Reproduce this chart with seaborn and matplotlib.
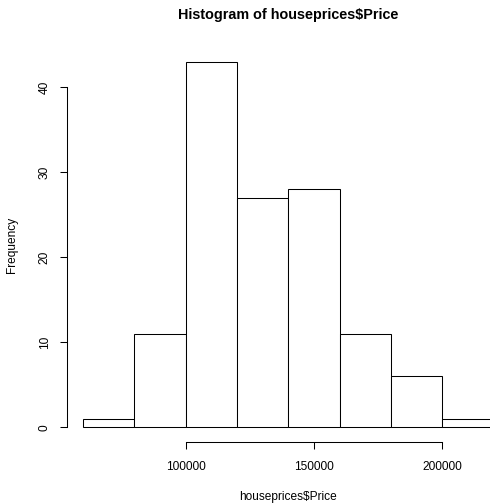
import matplotlib
matplotlib.use("Agg")
import matplotlib.pyplot as plt
import seaborn as sns
import numpy as np

bin_edges = [60000, 80000, 100000, 120000, 140000, 160000, 180000, 200000, 220000]
counts = [1, 11, 43, 27, 28, 11, 6, 1]
x_ticks = [100000, 150000, 200000]
x_tick_labels = ["100000", "150000", "200000"]
y_ticks = [0, 10, 20, 30, 40]
y_tick_labels = ["0", "10", "20", "30", "40"]

sns.set_style("white")
plt.rcParams["font.family"] = ["Liberation Sans", "DejaVu Sans"]
plt.rcParams["text.parse_math"] = False
plt.rcParams["text.color"] = "black"
plt.rcParams["axes.labelcolor"] = "black"

centers = [(a + b) / 2 for a, b in zip(bin_edges[:-1], bin_edges[1:])]

fig = plt.figure(figsize=(4.9, 5.04), dpi=100)
ax = fig.add_axes([66.8 / 490, (504 - 442) / 504, 443 / 490, 395 / 504])

sns.histplot(x=centers, weights=counts, bins=bin_edges, ax=ax,
             color="white", edgecolor="black", linewidth=0.75, alpha=1)

rng = bin_edges[-1] - bin_edges[0]
ax.set_xlim(bin_edges[0] - 0.04 * rng, bin_edges[-1] + 0.04 * rng)
ymax = max(counts)
ax.set_ylim(-0.04 * ymax, ymax * 1.04)

for s in ["top", "right"]:
    ax.spines[s].set_visible(False)
for s in ["left", "bottom"]:
    ax.spines[s].set_color("black")
    ax.spines[s].set_linewidth(0.75)
ax.spines["left"].set_bounds(y_ticks[0], y_ticks[-1])
ax.spines["bottom"].set_bounds(x_ticks[0], x_ticks[-1])

ax.set_xticks(x_ticks)
ax.set_xticklabels(x_tick_labels)
ax.set_yticks(y_ticks)
ax.set_yticklabels(y_tick_labels, rotation=90, va="center")
ax.tick_params(axis="both", direction="out", length=5.2, width=0.75,
               color="black", labelsize=8.6, labelcolor="black",
               bottom=True, left=True)
ax.tick_params(axis="x", pad=8.8)
ax.tick_params(axis="y", pad=6.5)

ax.set_xlabel("houseprices$Price", fontsize=8.6, color="black")
ax.set_ylabel("Frequency", fontsize=8.6, color="black")
ax.yaxis.set_label_coords((12 - 66.8) / 443, 0.5)
ax.xaxis.set_label_coords((288.5 - 66.8) / 443, -(497 - 442) / 395)
ax.xaxis.label.set_va("center")
ax.yaxis.label.set_va("center")

fig.text(288.5 / 490, 1 - 15.5 / 504, "Histogram of houseprices$Price",
         ha="center", va="center", fontsize=10.4, fontweight="bold",
         color="black")

fig.savefig("out.png", dpi=100)
